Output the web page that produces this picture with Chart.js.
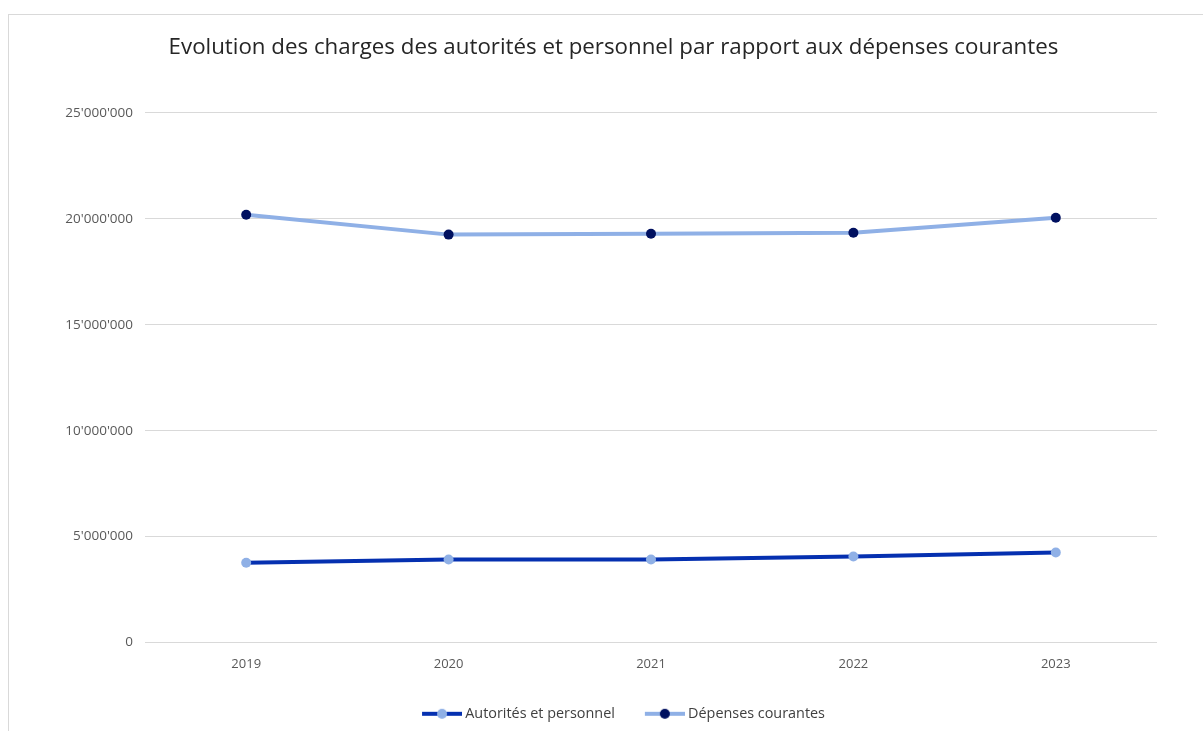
<!DOCTYPE html>
<html>
<head>
<meta charset="utf-8">
<script src="https://cdn.jsdelivr.net/npm/chart.js@4"></script>
<style>
  html, body { margin: 0; padding: 0; background: #fff; }
  #wrap { position: relative; width: 1203px; height: 731px; }
  #frame {
    position: absolute; left: 8px; top: 14px; right: 0; bottom: -2px;
    border-left: 1px solid #d9d9d9; border-top: 1px solid #d9d9d9;
  }
  canvas { position: absolute; left: 0; top: 0; }
</style>
</head>
<body>
<div id="wrap">
  <div id="frame"></div>
  <canvas id="chart" width="1203" height="731"></canvas>
</div>
<script>
const years = ["2019", "2020", "2021", "2022", "2023"];
const autorites = [3770000, 3920000, 3920000, 4060000, 4250000];
const depenses = [20190000, 19250000, 19290000, 19340000, 20050000];
const yTicks = [0, 5000000, 10000000, 15000000, 20000000, 25000000];

const darkBlue = "#0530b0";
const lightBlue = "#8fb0e6";
const navy = "#001060";

// legend icon: line with a dot, blank space on the left so it sits close to the text
function legendIcon(lineColor, dotColor) {
  const c = document.createElement("canvas");
  c.width = 64;
  c.height = 12;
  const g = c.getContext("2d");
  g.strokeStyle = lineColor;
  g.lineWidth = 4;
  g.beginPath();
  g.moveTo(24, 6);
  g.lineTo(64, 6);
  g.stroke();
  g.fillStyle = dotColor;
  g.beginPath();
  g.arc(44, 6, 5, 0, Math.PI * 2);
  g.fill();
  return c;
}

function fmt(v) {
  return String(v).replace(/\B(?=(\d{3})+(?!\d))/g, "'");
}

const font = "'Open Sans', 'Noto Sans', sans-serif";

new Chart(document.getElementById("chart").getContext("2d"), {
  type: "line",
  data: {
    labels: years,
    datasets: [
      {
        label: "Autorités et personnel",
        data: autorites,
        borderColor: darkBlue,
        backgroundColor: lightBlue,
        pointBackgroundColor: lightBlue,
        pointBorderColor: lightBlue,
        pointRadius: 5,
        pointBorderWidth: 0,
        borderWidth: 4,
        tension: 0,
      },
      {
        label: "Dépenses courantes",
        data: depenses,
        borderColor: lightBlue,
        backgroundColor: navy,
        pointBackgroundColor: navy,
        pointBorderColor: navy,
        pointRadius: 5,
        pointBorderWidth: 0,
        borderWidth: 4,
        tension: 0,
      },
    ],
  },
  options: {
    responsive: false,
    animation: false,
    layout: { padding: { left: 24, right: 0, top: 0, bottom: 0 } },
    plugins: {
      title: {
        display: true,
        text: "Evolution des charges des autorités et personnel par rapport aux dépenses courantes",
        color: "#262626",
        font: { family: font, size: 22.3, weight: "normal" },
        padding: { top: 34, bottom: 52 },
      },
      legend: {
        position: "bottom",
        labels: {
          color: "#404040",
          font: { family: font, size: 14.4 },
          usePointStyle: true,
          pointStyleWidth: 56,
          boxHeight: 12,
          padding: 10,
          generateLabels: function (chart) {
            return chart.data.datasets.map((ds, i) => ({
              text: ds.label,
              datasetIndex: i,
              pointStyle: i === 0 ? legendIcon(darkBlue, lightBlue) : legendIcon(lightBlue, navy),
              fontColor: "#404040",
              lineWidth: 0,
              strokeStyle: "transparent",
              fillStyle: "transparent",
            }));
          },
        },
      },
      tooltip: { enabled: false },
    },
    scales: {
      x: {
        offset: true,
        grid: { display: false },
        border: { display: false },
        ticks: { color: "#595959", font: { family: font, size: 13 }, padding: 6 },
        afterFit: function (scale) { scale.height = 54; },
      },
      y: {
        min: 0,
        max: 25000000,
        afterBuildTicks: function (scale) {
          scale.ticks = yTicks.map((v) => ({ value: v }));
        },
        grid: { color: "#d9d9d9", drawTicks: false },
        border: { display: false },
        ticks: {
          color: "#595959",
          font: { family: font, size: 13.5 },
          padding: 12,
          callback: (v) => fmt(v),
        },
        afterFit: function (scale) { scale.width = 121; },
      },
      // empty right axis, only to keep room on the right of the plot
      yRight: {
        position: "right",
        min: 0,
        max: 1,
        grid: { display: false },
        border: { display: false },
        ticks: { display: false },
        afterFit: function (scale) { scale.width = 46; },
      },
    },
  },
});
</script>
</body>
</html>
